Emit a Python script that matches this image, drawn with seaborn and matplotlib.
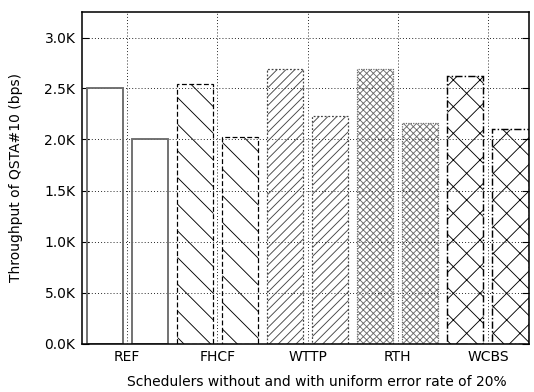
import matplotlib
matplotlib.use("Agg")
import matplotlib.pyplot as plt
import seaborn as sns
import pandas as pd

# Throughput per scheduler, without and with a 20% uniform error rate (bps)
schedulers = ["REF", "FHCF", "WTTP", "RTH", "WCBS"]
without_errors = [2500, 2545, 2690, 2690, 2625]
with_errors = [2005, 2020, 2235, 2158, 2103]
conditions = ["without errors", "with 20% errors"]

y_ticks = [0, 500, 1000, 1500, 2000, 2500, 3000]
y_tick_labels = ["0.0K", "5.0K", "1.0K", "1.5K", "2.0K", "2.5K", "3.0K"]

df = pd.DataFrame({
    "Scheduler": schedulers * 2,
    "Condition": [conditions[0]] * len(schedulers) + [conditions[1]] * len(schedulers),
    "Throughput": without_errors + with_errors,
})

sns.set_style("white")
plt.rcParams["font.family"] = ["DejaVu Sans"]
plt.rcParams["hatch.linewidth"] = 0.8
plt.rcParams["text.color"] = "black"
plt.rcParams["axes.labelcolor"] = "black"
plt.rcParams["xtick.color"] = "black"
plt.rcParams["ytick.color"] = "black"

W, H, DPI = 534, 392, 80
FS = 12.5
fig = plt.figure(figsize=(W / DPI, H / DPI), dpi=DPI)
ax = fig.add_axes([82 / W, 1 - 343.5 / H, (529 - 82) / W, (343.5 - 12) / H])

sns.barplot(data=df, x="Scheduler", y="Throughput", hue="Condition",
            order=schedulers, hue_order=conditions, width=1.0, gap=0.2,
            errorbar=None, legend=False, ax=ax)

# Outline and fill pattern for each scheduler's pair of bars
styles = {
    "REF": dict(edgecolor="#6e6e6e", linestyle="-", lw=1.7, hatch=None),
    "FHCF": dict(edgecolor="black", linestyle=(0, (4, 2)), lw=1.1, hatch="\\"),
    "WTTP": dict(edgecolor="#444444", linestyle=(0, (1.5, 1.5)), lw=1.1, hatch="///"),
    "RTH": dict(edgecolor="#6a6a6a", linestyle=(0, (1, 1)), lw=1.1, hatch="xxxx"),
    "WCBS": dict(edgecolor="black", linestyle=(0, (5, 1.5, 1, 1.5)), lw=1.3, hatch="x"),
}
for container in ax.containers:
    for name, bar in zip(schedulers, container):
        st = styles[name]
        bar.set_facecolor("none")
        bar.set_edgecolor(st["edgecolor"])
        bar.set_linestyle(st["linestyle"])
        bar.set_linewidth(st["lw"])
        if st["hatch"]:
            bar.set_hatch(st["hatch"])
            if hasattr(bar, "set_hatch_linewidth"):
                bar.set_hatch_linewidth(0.8)

ax.set_xlim(-0.5, 4.455)
ax.set_ylim(0, 3250)
ax.set_yticks(y_ticks)
ax.set_yticklabels(y_tick_labels)

ax.grid(True, color="black", linestyle=(0, (1, 2.5)), lw=0.8)
ax.set_axisbelow(True)

for side in ["left", "right", "top", "bottom"]:
    ax.spines[side].set_visible(True)
    ax.spines[side].set_color("black")
    ax.spines[side].set_linewidth(1.4)

ax.tick_params(axis="y", direction="in", length=6, width=1, left=True, right=True,
               labelsize=FS, pad=6, colors="black")
ax.tick_params(axis="x", direction="in", length=0, bottom=False, top=False,
               labelsize=FS, pad=6, colors="black")

ax.set_xlabel("Schedulers without and with uniform error rate of 20%", fontsize=FS, color="black")
ax.set_ylabel("Throughput of QSTA#10 (bps)", fontsize=FS, color="black")
ax.xaxis.set_label_coords(0.525, -0.094)
ax.yaxis.set_label_coords(-0.133, 0.5)

fig.savefig("out.png", dpi=DPI)
